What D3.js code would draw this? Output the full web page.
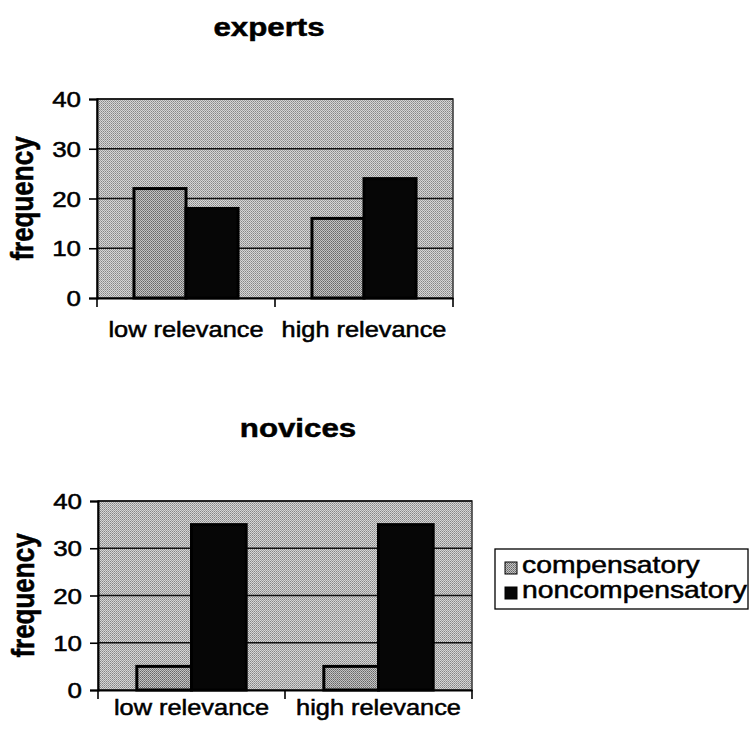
<!DOCTYPE html>
<html>
<head>
<meta charset="utf-8">
<script src="https://cdn.jsdelivr.net/npm/d3@7"></script>
<style>
  body { margin: 0; background: #fff; }
  svg text { font-family: "Liberation Sans", Arial, sans-serif; fill: #000; stroke: #000; stroke-width: 0.5px; }
</style>
</head>
<body>
<div id="chart"></div>
<script>
// data
const categories = ["low relevance", "high relevance"];
const series = ["compensatory", "noncompensatory"];
const expertsComp = [22, 16];
const expertsNonComp = [18, 24];
const novicesComp = [5, 5];
const novicesNonComp = [35, 35];
const yTicks = [0, 10, 20, 30, 40];

const SX = 1.18; // scanned page is a bit wide

const svg = d3.select("#chart")
    .append("svg")
    .attr("width", 749)
    .attr("height", 744);

// halftone-ish fills
const defs = svg.append("defs");
function dither(id, light, dark1, dark2) {
    const p = defs.append("pattern")
        .attr("id", id)
        .attr("width", 2).attr("height", 2)
        .attr("patternUnits", "userSpaceOnUse");
    p.append("rect").attr("width", 2).attr("height", 2).attr("fill", light);
    p.append("rect").attr("width", 1).attr("height", 1).attr("fill", dark1);
    p.append("rect").attr("x", 1).attr("y", 1).attr("width", 1).attr("height", 1).attr("fill", dark2);
}
dither("bgPat", "#d6d6d6", "#858585", "#a0a0a0");
dither("compPat", "#c4c4c4", "#666", "#808080");

const colors = { compensatory: "url(#compPat)", noncompensatory: "#060606" };

function stext(g, x, y, str, anchor, size, weight) {
    return g.append("text")
        .attr("transform", "translate(" + x + "," + y + ") scale(" + SX + ",1)")
        .attr("text-anchor", anchor)
        .style("font-size", size + "px")
        .style("font-weight", weight || "normal")
        .text(str);
}

function drawPanel(p) {
    const width = p.right - p.left,
          height = p.bottom - p.top;

    const g = svg.append("g")
        .attr("transform", "translate(" + p.left + "," + p.top + ")");

    const x0 = d3.scaleBand()
        .domain(categories)
        .range([0, width])
        .padding(0);

    const x1 = d3.scaleBand()
        .domain(series)
        .range([0, x0.bandwidth()])
        .paddingInner(0)
        .paddingOuter(0.71);

    const y = d3.scaleLinear()
        .domain([0, 40])
        .range([height, 0]);

    // plot area
    g.append("rect")
        .attr("width", width)
        .attr("height", height)
        .attr("fill", "url(#bgPat)")
        .attr("stroke", "#333")
        .attr("stroke-width", 1.5);

    // gridlines
    g.selectAll(".grid")
        .data(yTicks.filter(d => d > 0))
        .enter()
        .append("line")
        .attr("x1", 0).attr("x2", width)
        .attr("y1", d => y(d)).attr("y2", d => y(d))
        .attr("stroke", "#111")
        .attr("stroke-width", 1.6);

    // bars
    const rows = categories.map((c, i) => ({
        cat: c,
        vals: [
            { key: "compensatory", value: p.comp[i] },
            { key: "noncompensatory", value: p.noncomp[i] }
        ]
    }));

    const grp = g.selectAll(".cat")
        .data(rows)
        .enter()
        .append("g")
        .attr("transform", d => "translate(" + x0(d.cat) + ",0)");

    grp.selectAll("rect")
        .data(d => d.vals)
        .enter()
        .append("rect")
        .attr("x", d => x1(d.key))
        .attr("y", d => y(d.value))
        .attr("width", x1.bandwidth())
        .attr("height", d => y(0) - y(d.value))
        .attr("fill", d => colors[d.key])
        .attr("stroke", "#000")
        .attr("stroke-width", 3);

    // axes
    const yAxis = g.append("g")
        .call(d3.axisLeft(y).tickValues(yTicks).tickSize(8).tickFormat(""));
    yAxis.select(".domain").attr("stroke", "#000").attr("stroke-width", 2);
    yAxis.selectAll(".tick line").attr("stroke", "#000").attr("stroke-width", 1.6);

    const xAxis = g.append("g")
        .attr("transform", "translate(0," + height + ")")
        .call(d3.axisBottom(x0).tickSize(0).tickFormat(""));
    xAxis.select(".domain").attr("stroke", "#000").attr("stroke-width", 2);
    // category boundary ticks
    xAxis.selectAll(".edge")
        .data([0, ...categories.map(c => x0(c) + x0.bandwidth())])
        .enter()
        .append("line")
        .attr("x1", d => d).attr("x2", d => d)
        .attr("y1", 0).attr("y2", 9)
        .attr("stroke", "#000")
        .attr("stroke-width", 1.6);

    // tick labels
    yTicks.forEach(t => {
        stext(g, -16, y(t) + 8, String(t), "end", 22);
    });
    categories.forEach(c => {
        stext(g, x0(c) + x0.bandwidth() / 2, height + p.catDy, c, "middle", 21.5);
    });

    // axis title
    g.append("text")
        .attr("transform", "translate(" + (-64) + "," + (height / 2) + ") scale(" + SX + ",1) rotate(-90)")
        .attr("text-anchor", "middle")
        .style("font-size", "26px")
        .style("font-weight", "bold")
        .text("frequency");

    // panel title
    stext(svg, p.titleX, p.titleY, p.title, "middle", 26.5, "bold");
}

drawPanel({
    title: "experts", titleX: 269, titleY: 36,
    left: 97, right: 453, top: 99, bottom: 298,
    comp: expertsComp, noncomp: expertsNonComp, catDy: 39
});

drawPanel({
    title: "novices", titleX: 298, titleY: 437,
    left: 98, right: 472, top: 501, bottom: 690,
    comp: novicesComp, noncomp: novicesNonComp, catDy: 25
});

// legend
const legend = svg.append("g").attr("transform", "translate(495,549)");
legend.append("rect")
    .attr("width", 253)
    .attr("height", 60)
    .attr("fill", "#fff")
    .attr("stroke", "#000")
    .attr("stroke-width", 1.3);

series.forEach((s, i) => {
    legend.append("rect")
        .attr("x", 10)
        .attr("y", 13 + i * 25)
        .attr("width", 12)
        .attr("height", 12)
        .attr("fill", colors[s])
        .attr("stroke", "#000")
        .attr("stroke-width", 1);
    stext(legend, 27, 24 + i * 25, s, "start", 24);
});
</script>
</body>
</html>
